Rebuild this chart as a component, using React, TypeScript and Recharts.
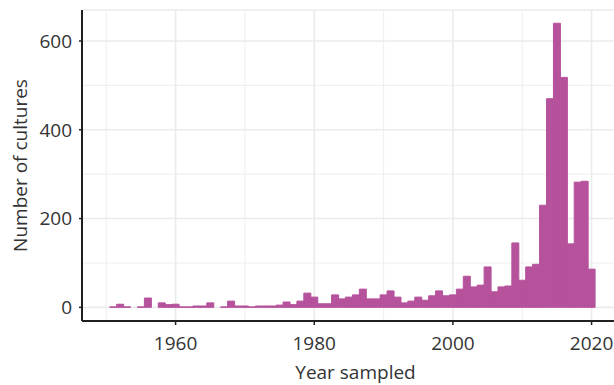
import React from 'react'
import { ComposedChart, Bar, XAxis, YAxis, CartesianGrid } from 'recharts'

// one bar per year sampled
const years = [
  1951, 1952, 1953, 1954, 1955, 1956, 1957, 1958, 1959, 1960,
  1961, 1962, 1963, 1964, 1965, 1966, 1967, 1968, 1969, 1970,
  1971, 1972, 1973, 1974, 1975, 1976, 1977, 1978, 1979, 1980,
  1981, 1982, 1983, 1984, 1985, 1986, 1987, 1988, 1989, 1990,
  1991, 1992, 1993, 1994, 1995, 1996, 1997, 1998, 1999, 2000,
  2001, 2002, 2003, 2004, 2005, 2006, 2007, 2008, 2009, 2010,
  2011, 2012, 2013, 2014, 2015, 2016, 2017, 2018, 2019, 2020,
]

const counts = [
  1, 7, 1, 0, 1, 21, 0, 10, 6, 7,
  1, 1, 3, 3, 10, 0, 1, 14, 3, 3,
  1, 3, 3, 3, 5, 12, 6, 14, 32, 23,
  8, 8, 28, 19, 23, 28, 41, 19, 19, 28,
  37, 23, 10, 14, 23, 16, 26, 37, 26, 28,
  41, 70, 46, 50, 91, 35, 46, 48, 145, 61,
  91, 97, 230, 470, 640, 518, 143, 282, 284, 86,
]

const xTicks = [1960, 1980, 2000, 2020]
const xMinor = [1950, 1970, 1990, 2010]
const yTicks = [0, 200, 400, 600]
const yMinor = [100, 300, 500]

const xDomain = [1946.5, 2025.4]
const yDomain = [-30.8, 669.8]

const data = years.map((year, i) => ({ year, count: counts[i] }))

const FONT = '"Open Sans", sans-serif'
const INK = '#231f20'
const TEXT = '#333333'
const BAR = '#b6529c'

// minor grid positions from the plot box
const minorX = ({ offset }: any) =>
  xMinor.map(v => offset.left + ((v - xDomain[0]) / (xDomain[1] - xDomain[0])) * offset.width)
const minorY = ({ offset }: any) =>
  yMinor.map(v => offset.top + ((yDomain[1] - v) / (yDomain[1] - yDomain[0])) * offset.height)

export default function App() {
  return (
    <div style={{ position: 'absolute', left: 0, top: 0, width: 614, height: 385, overflow: 'hidden', background: '#fff' }}>
      <ComposedChart
        width={640}
        height={385}
        data={data}
        margin={{ top: 10, right: 11, bottom: 0, left: 22 }}
        barCategoryGap={0}
        barGap={0}
        style={{ fontFamily: FONT }}
      >
        <CartesianGrid
          stroke="#f0f0f0"
          strokeWidth={1.1}
          horizontalCoordinatesGenerator={minorY}
          verticalCoordinatesGenerator={minorX}
        />
        <CartesianGrid stroke="#ebebeb" strokeWidth={1.6} />
        <XAxis
          dataKey="year"
          type="number"
          domain={xDomain}
          allowDataOverflow
          ticks={xTicks}
          height={64}
          tickSize={4}
          tickMargin={11.5}
          tickLine={{ stroke: INK, strokeWidth: 1.5 }}
          axisLine={{ stroke: INK, strokeWidth: 2 }}
          tick={{ fontSize: 19, fill: TEXT, fontFamily: FONT }}
          label={{ value: 'Year sampled', position: 'insideBottom', offset: 6, fontSize: 19, fill: TEXT, fontFamily: FONT }}
        />
        <XAxis
          xAxisId="top"
          orientation="top"
          type="number"
          domain={[0, 1]}
          height={0}
          tick={false}
          tickLine={false}
          axisLine={{ stroke: INK, strokeWidth: 2 }}
        />
        <YAxis
          type="number"
          domain={yDomain}
          allowDataOverflow
          ticks={yTicks}
          width={60}
          tickSize={3}
          tickMargin={7}
          tickLine={{ stroke: INK, strokeWidth: 1.5 }}
          axisLine={{ stroke: INK, strokeWidth: 2 }}
          tick={{ fontSize: 19, fill: TEXT, fontFamily: FONT }}
          label={{
            content: (p: any) => {
              const vb = p.viewBox || { x: 22, y: 10, width: 60, height: 311 }
              const cx = vb.x + 5
              const cy = vb.y + vb.height / 2
              return (
                <text
                  x={cx}
                  y={cy}
                  transform={`rotate(-90 ${cx} ${cy})`}
                  textAnchor="middle"
                  fontSize={19}
                  fill={TEXT}
                  fontFamily={FONT}
                >
                  Number of cultures
                </text>
              )
            },
          }}
        />
        <Bar dataKey="count" fill={BAR} stroke={BAR} strokeWidth={1} isAnimationActive={false} />
      </ComposedChart>
    </div>
  )
}
